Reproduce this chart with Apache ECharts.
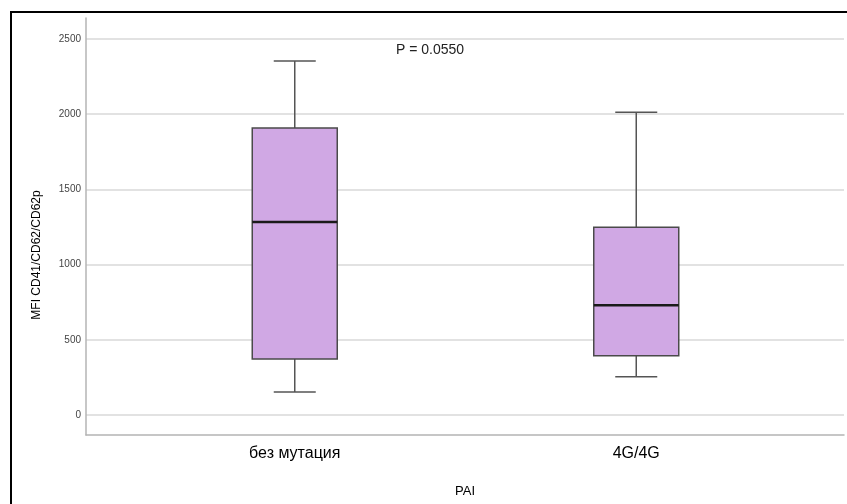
<!DOCTYPE html>
<html>
<head>
<meta charset="utf-8">
<script src="https://cdn.jsdelivr.net/npm/echarts@6/dist/echarts.min.js"></script>
<style>html,body{margin:0;padding:0;background:#fff}#c{width:847px;height:504px}</style>
</head>
<body>
<div id="c"></div>
<script>
var categories = ['без мутация', '4G/4G'];
// [low whisker, Q1, median, Q3, high whisker]
var lowWhisker = [153, 255];
var q1 = [372, 394];
var median = [1283, 729];
var q3 = [1908, 1248];
var highWhisker = [2354, 2013];
var yTicks = [0, 500, 1000, 1500, 2000, 2500];
var pText = 'P = 0.0550';
var yName = 'MFI CD41/CD62/CD62p';
var xName = 'PAI';

var boxData = categories.map(function (c, i) {
  return [i, lowWhisker[i], q1[i], median[i], q3[i], highWhisker[i]];
});

var chart = echarts.init(document.getElementById('c'), null, {renderer: 'canvas'});
var FONT = 'Liberation Sans, Arial, sans-serif';

chart.setOption({
  backgroundColor: '#fff',
  animation: false,
  grid: [
    {left: 86, right: 3, top: 39, bottom: 89},   // gridlines + labels
    {left: 86, right: 3, top: 18, bottom: 69},   // axis lines frame
    {left: 124, right: 40, top: 39, bottom: 89}  // data
  ],
  xAxis: [
    {gridIndex: 0, type: 'value', show: false, min: 0, max: 1},
    {gridIndex: 1, type: 'value', min: 0, max: 1,
      axisLine: {show: true, onZero: false, lineStyle: {color: '#b4b4b4', width: 1.5}},
      axisTick: {show: false}, axisLabel: {show: false}, splitLine: {show: false},
      name: xName, nameLocation: 'middle', nameGap: 50,
      nameTextStyle: {fontFamily: FONT, fontSize: 13, color: '#000'}},
    {gridIndex: 2, type: 'category', data: categories, boundaryGap: true,
      axisLine: {show: false}, axisTick: {show: false}, splitLine: {show: false},
      axisLabel: {margin: 31, fontFamily: FONT, fontSize: 16, color: '#000'}}
  ],
  yAxis: [
    {gridIndex: 0, type: 'value', min: yTicks[0], max: yTicks[yTicks.length - 1], interval: 500,
      axisLine: {show: false}, axisTick: {show: false},
      axisLabel: {margin: 5, fontFamily: FONT, fontSize: 10, color: '#444',
        formatter: function (v) { return String(v); }},
      splitLine: {show: true, lineStyle: {color: '#d9d9d9', width: 1.5}}},
    {gridIndex: 1, type: 'value', min: 0, max: 1,
      axisLine: {show: true, onZero: false, lineStyle: {color: '#b4b4b4', width: 1.5}},
      axisTick: {show: false}, axisLabel: {show: false}, splitLine: {show: false}},
    {gridIndex: 2, type: 'value', min: yTicks[0], max: yTicks[yTicks.length - 1], show: false}
  ],
  graphic: [
    {type: 'rect', shape: {x: 11, y: 12, width: 1000, height: 1000},
      style: {fill: 'none', stroke: '#000', lineWidth: 2}, silent: true},
    {type: 'text', left: 396, top: 43,
      style: {text: pText, font: '14px ' + FONT, fill: '#222'}},
    {type: 'text', x: 37, y: 255, rotation: Math.PI / 2,
      style: {text: yName, font: '12px ' + FONT, fill: '#000', align: 'center', verticalAlign: 'middle'}}
  ],
  series: [{
    type: 'custom',
    xAxisIndex: 2, yAxisIndex: 2,
    data: boxData,
    renderItem: function (params, api) {
      var x = api.value(0);
      var pLow = api.coord([x, api.value(1)]);
      var pQ1 = api.coord([x, api.value(2)]);
      var pMed = api.coord([x, api.value(3)]);
      var pQ3 = api.coord([x, api.value(4)]);
      var pHigh = api.coord([x, api.value(5)]);
      var cx = pMed[0];
      var hw = 42.5, cw = 21;
      var wStyle = {stroke: '#555', lineWidth: 1.5};
      return {
        type: 'group',
        children: [
          {type: 'line', shape: {x1: cx, y1: pHigh[1], x2: cx, y2: pQ3[1]}, style: wStyle},
          {type: 'line', shape: {x1: cx - cw, y1: pHigh[1], x2: cx + cw, y2: pHigh[1]}, style: wStyle},
          {type: 'line', shape: {x1: cx, y1: pQ1[1], x2: cx, y2: pLow[1]}, style: wStyle},
          {type: 'line', shape: {x1: cx - cw, y1: pLow[1], x2: cx + cw, y2: pLow[1]}, style: wStyle},
          {type: 'rect', shape: {x: cx - hw, y: pQ3[1], width: hw * 2, height: pQ1[1] - pQ3[1]},
            style: {fill: '#d0a8e4', stroke: '#4a4a4a', lineWidth: 1.5}},
          {type: 'line', shape: {x1: cx - hw, y1: pMed[1], x2: cx + hw, y2: pMed[1]},
            style: {stroke: '#1a1a1a', lineWidth: 2.5}}
        ]
      };
    }
  }]
});
</script>
</body>
</html>
